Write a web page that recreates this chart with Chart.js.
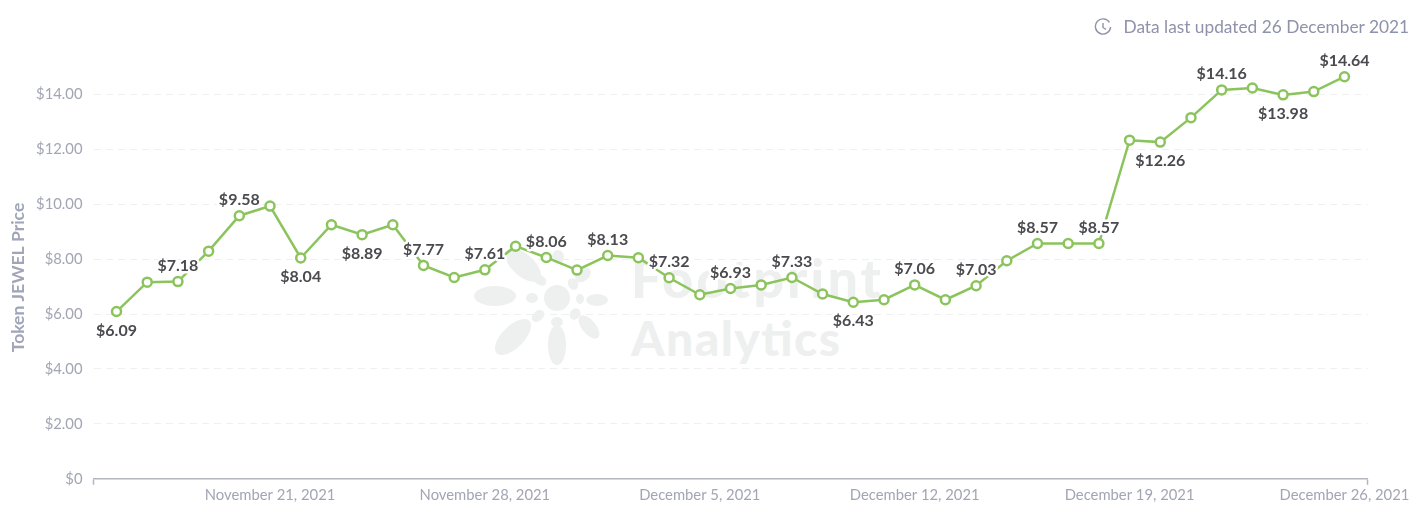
<!DOCTYPE html>
<html>
<head>
<meta charset="utf-8">
<script src="https://cdn.jsdelivr.net/npm/chart.js@4/dist/chart.umd.min.js"></script>
<style>
html, body { margin: 0; padding: 0; background: #fff; overflow: hidden; }
#wrap { position: relative; width: 1426px; height: 523px; font-family: Lato, sans-serif; }
#mark { position: absolute; left: 0; top: 0; }
#chart { position: absolute; left: 0; top: 0; }
#updated { position: absolute; right: 17px; top: 16px; font-size: 17.3px; line-height: 22px; color: #8e92aa; white-space: nowrap; }
#clock { position: absolute; left: 1094px; top: 18px; }
</style>
</head>
<body>
<div id="wrap">
	<svg id="mark" width="1426" height="523" fill="#eef0f0">
		<ellipse cx="495" cy="296" rx="21" ry="10"/>
		<ellipse cx="523" cy="265" rx="22" ry="11" transform="rotate(42 523 265)"/>
		<ellipse cx="558" cy="257" rx="6" ry="7"/>
		<ellipse cx="583" cy="275" rx="9" ry="6" transform="rotate(-40 583 275)"/>
		<ellipse cx="597" cy="300" rx="11" ry="6"/>
		<ellipse cx="589" cy="327" rx="14" ry="7" transform="rotate(50 589 327)"/>
		<ellipse cx="557" cy="345" rx="9" ry="20"/>
		<ellipse cx="513" cy="337" rx="23" ry="11" transform="rotate(-45 513 337)"/>
		<ellipse cx="540" cy="280" rx="7" ry="5" transform="rotate(35 540 280)"/>
		<ellipse cx="573" cy="284" rx="5" ry="6" transform="rotate(-30 573 284)"/>
		<ellipse cx="532" cy="298" rx="6" ry="5"/>
		<ellipse cx="580" cy="299" rx="4" ry="5"/>
		<ellipse cx="538" cy="316" rx="7" ry="5" transform="rotate(-40 538 316)"/>
		<ellipse cx="575" cy="314" rx="5" ry="6" transform="rotate(35 575 314)"/>
		<ellipse cx="557" cy="322" rx="6" ry="5"/>
		<circle cx="557" cy="298" r="13"/>
		<text x="631" y="298" font-family="Lato" font-weight="900" font-size="54" textLength="250" lengthAdjust="spacing">Footprint</text>
		<text x="631" y="356" font-family="Lato" font-weight="900" font-size="48" textLength="209" lengthAdjust="spacing">Analytics</text>
	</svg>
	<canvas id="chart" width="1426" height="523"></canvas>
	<svg id="clock" width="18" height="18" fill="none" stroke="#8e92aa" stroke-width="1.4">
		<path d="M15.5 4.5 A7.6 7.6 0 1 0 16.6 9"/>
		<path d="M9 5 V9.5 L12 11.5"/>
	</svg>
	<div id="updated">Data last updated 26 December 2021</div>
</div>
<script>
const dates = [
	'November 16, 2021','November 17, 2021','November 18, 2021','November 19, 2021','November 20, 2021',
	'November 21, 2021','November 22, 2021','November 23, 2021','November 24, 2021','November 25, 2021',
	'November 26, 2021','November 27, 2021','November 28, 2021','November 29, 2021','November 30, 2021',
	'December 1, 2021','December 2, 2021','December 3, 2021','December 4, 2021','December 5, 2021',
	'December 6, 2021','December 7, 2021','December 8, 2021','December 9, 2021','December 10, 2021',
	'December 11, 2021','December 12, 2021','December 13, 2021','December 14, 2021','December 15, 2021',
	'December 16, 2021','December 17, 2021','December 18, 2021','December 19, 2021','December 20, 2021',
	'December 21, 2021','December 22, 2021','December 23, 2021','December 24, 2021','December 25, 2021',
	'December 26, 2021'
]
const prices = [
	6.09, 7.16, 7.18, 8.29, 9.58, 9.93, 8.04, 9.25, 8.89, 9.25,
	7.77, 7.33, 7.61, 8.47, 8.06, 7.60, 8.13, 8.05, 7.32, 6.70,
	6.93, 7.06, 7.33, 6.73, 6.43, 6.52, 7.06, 6.52, 7.03, 7.94,
	8.57, 8.57, 8.57, 12.33, 12.26, 13.15, 14.16, 14.23, 13.98, 14.10,
	14.64
]
const dateTicks = [5, 12, 19, 26, 33, 40]
const priceTicks = [0, 2, 4, 6, 8, 10, 12, 14]
const labelsAbove = [2, 4, 10, 12, 14, 16, 18, 20, 22, 26, 28, 30, 32, 36, 40]
const labelsBelow = [0, 6, 8, 24, 34, 38]

const X_MIN = -0.75
const X_MAX = 40.75

// value labels with a white halo, every second point
const valueLabels = {
	id: 'valueLabels',
	afterDatasetsDraw(chart) {
		var ctx = chart.ctx
		var pts = chart.getDatasetMeta(0).data
		ctx.save()
		ctx.font = '700 16px Lato'
		ctx.textAlign = 'center'
		ctx.textBaseline = 'middle'
		ctx.lineJoin = 'round'
		function put(i, dy) {
			var txt = '$' + prices[i].toFixed(2)
			ctx.lineWidth = 5
			ctx.strokeStyle = '#fff'
			ctx.strokeText(txt, pts[i].x, pts[i].y + dy)
			ctx.fillStyle = '#4a4a4f'
			ctx.fillText(txt, pts[i].x, pts[i].y + dy)
		}
		labelsAbove.forEach(function(i) { put(i, -16) })
		labelsBelow.forEach(function(i) { put(i, 19) })
		ctx.restore()
	}
}

// axis title sits lower than the middle of the y axis, so it is drawn by hand
const yTitle = {
	id: 'yTitle',
	afterDraw(chart) {
		var ctx = chart.ctx
		ctx.save()
		ctx.translate(18, 277.5)
		ctx.rotate(-Math.PI / 2)
		ctx.font = '700 17.5px Lato'
		ctx.textAlign = 'center'
		ctx.textBaseline = 'middle'
		ctx.fillStyle = '#a0a6b8'
		ctx.fillText('Token JEWEL Price', 0, 0)
		ctx.restore()
	}
}

new Chart(document.getElementById('chart').getContext('2d'), {
	type: 'line',
	data: {
		datasets: [{
			data: prices.map(function(p, i) { return { x: i, y: p } }),
			borderColor: '#8bc45c',
			borderWidth: 2.5,
			backgroundColor: '#fff',
			pointBackgroundColor: '#fff',
			pointBorderColor: '#8bc45c',
			pointBorderWidth: 2.5,
			pointRadius: 4.5,
			tension: 0
		}]
	},
	options: {
		responsive: false,
		animation: false,
		layout: { padding: { top: 39.4, right: 58.5, left: 0, bottom: 0 } },
		plugins: { legend: { display: false }, tooltip: { enabled: false } },
		scales: {
			x: {
				type: 'linear',
				min: X_MIN,
				max: X_MAX,
				afterBuildTicks: function(axis) {
					axis.ticks = [X_MIN].concat(dateTicks, [X_MAX]).map(function(v) { return { value: v } })
				},
				afterFit: function(axis) { axis.height = 44.2 },
				border: { display: true, color: '#b4b6c0', width: 1.5 },
				grid: {
					drawOnChartArea: false,
					drawTicks: true,
					tickLength: 6,
					tickWidth: 1.5,
					tickColor: function(c) {
						return (c.tick && (c.tick.value === X_MIN || c.tick.value === X_MAX)) ? '#b4b6c0' : 'rgba(0,0,0,0)'
					}
				},
				ticks: {
					autoSkip: false,
					maxRotation: 0,
					padding: 2,
					color: '#a2a5b3',
					font: { family: 'Lato', size: 14.8 },
					callback: function(v) { return dateTicks.indexOf(v) >= 0 ? dates[v] : '' }
				}
			},
			y: {
				min: 0,
				max: 16,
				afterBuildTicks: function(axis) {
					axis.ticks = priceTicks.map(function(v) { return { value: v } })
				},
				afterFit: function(axis) { axis.width = 93.5 },
				border: { display: false, dash: [7, 5] },
				grid: {
					color: function(c) { return c.tick && c.tick.value === 0 ? 'rgba(0,0,0,0)' : '#f0f0f0' },
					drawTicks: false
				},
				ticks: {
					padding: 11,
					color: '#a2a5b3',
					font: { family: 'Lato', size: 14.8 },
					callback: function(v) { return v === 0 ? '$0' : '$' + v.toFixed(2) }
				}
			}
		}
	},
	plugins: [valueLabels, yTitle]
})
</script>
</body>
</html>
